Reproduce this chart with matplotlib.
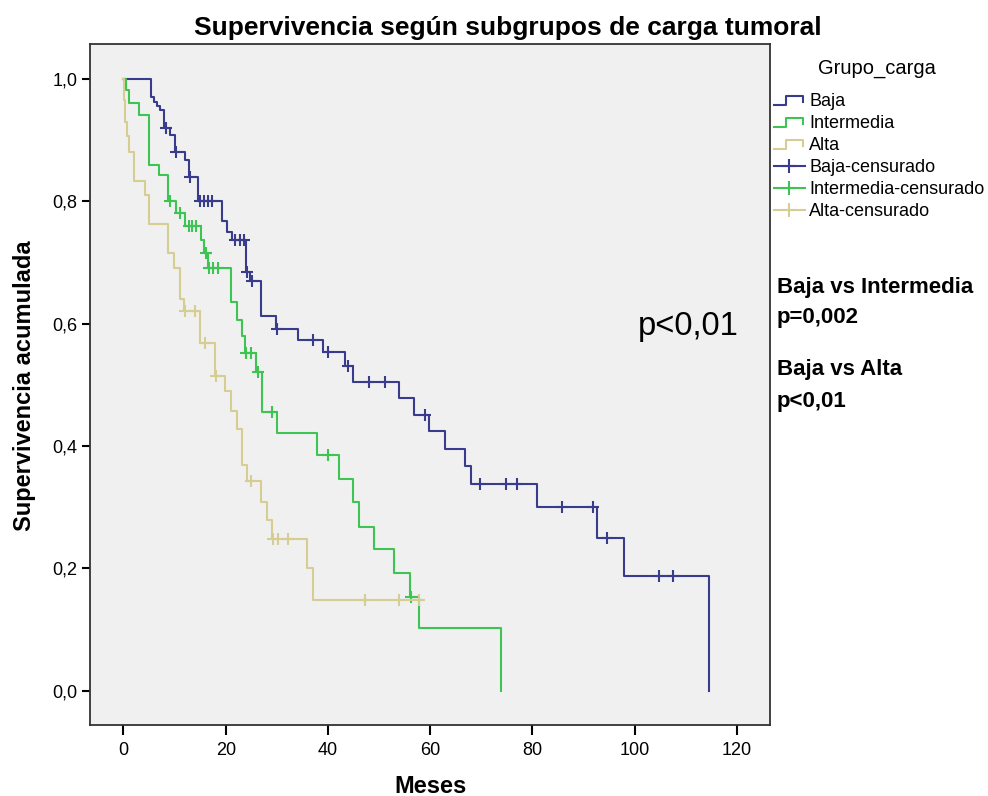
import numpy as np
import matplotlib
matplotlib.use('Agg')
import matplotlib.pyplot as plt
from matplotlib.lines import Line2D
from matplotlib.legend_handler import HandlerBase

# tiempos de evento (meses) y supervivencia acumulada tras cada evento
baja_t = [0, 5.3, 5.9, 6.5, 7.2, 8.0, 9.2, 10.0, 12.1, 12.8, 14.6, 19.2, 20.2, 21.2, 23.9, 24.8, 27.0,
          29.8, 34.2, 39.0, 43.3, 44.9, 54.0, 56.9, 59.8, 62.9, 66.9, 68.0, 81.0, 92.7, 97.9, 114.6]
baja_s = [1.0, 0.97, 0.963, 0.955, 0.949, 0.92, 0.908, 0.88, 0.868, 0.84, 0.80, 0.767, 0.75, 0.737, 0.685,
          0.669, 0.612, 0.592, 0.574, 0.553, 0.53, 0.505, 0.478, 0.451, 0.424, 0.395, 0.368, 0.338, 0.301,
          0.249, 0.187, 0.0]
baja_cens = [8.3, 10.3, 13.0, 14.9, 15.7, 16.6, 17.3, 21.9, 22.8, 23.5, 24.2, 25.1, 30.1, 37.1, 40.0,
             43.9, 48.0, 51.1, 58.9, 69.8, 74.8, 76.9, 85.8, 91.9, 94.6, 104.7, 107.6]

inter_t = [0, 0.4, 1.0, 3.0, 4.9, 6.9, 8.8, 10.3, 12.1, 15.2, 15.8, 16.6, 21.0, 22.2, 23.2, 23.7, 26.0,
           27.2, 30.0, 37.9, 42.2, 45.0, 46.0, 49.0, 53.0, 56.0, 57.9, 73.8]
inter_s = [1.0, 0.982, 0.96, 0.941, 0.86, 0.843, 0.80, 0.78, 0.759, 0.737, 0.715, 0.691, 0.636, 0.606,
           0.579, 0.552, 0.521, 0.455, 0.421, 0.386, 0.346, 0.309, 0.268, 0.231, 0.192, 0.154, 0.102, 0.0]
inter_cens = [9.1, 11.0, 12.8, 13.5, 14.2, 16.1, 16.8, 17.6, 18.4, 23.9, 25.0, 26.3, 29.1, 40.0, 56.3]

alta_t = [0, 0.1, 0.3, 0.6, 1.0, 2.0, 4.3, 4.9, 8.8, 9.8, 11.1, 11.8, 15.0, 17.9, 19.9, 21.1, 22.2,
          23.1, 24.1, 27.0, 28.0, 29.0, 36.0, 37.0, 58.3]
alta_s = [1.0, 0.965, 0.93, 0.906, 0.881, 0.833, 0.81, 0.763, 0.715, 0.691, 0.641, 0.62, 0.568, 0.514,
          0.49, 0.457, 0.428, 0.369, 0.342, 0.309, 0.279, 0.248, 0.2, 0.149, 0.149]
alta_cens = [12.0, 14.0, 16.0, 18.2, 24.9, 29.3, 30.2, 32.2, 47.2, 53.9, 57.9]

grupos = ['Baja', 'Intermedia', 'Alta']
colores = ['#393b8c', '#3ec452', '#d6cd93']

fuente = ['Liberation Sans', 'DejaVu Sans']
plt.rcParams['font.family'] = fuente


def surv_at(t, s, x):
    i = np.searchsorted(t, x, side='right') - 1
    return np.asarray(s)[i]


class StepHandler(HandlerBase):
    def create_artists(self, legend, orig_handle, xdescent, ydescent, width, height, fontsize, trans):
        x0, y0 = -xdescent, -ydescent
        xs = [x0, x0 + 0.4 * width, x0 + 0.4 * width, x0 + 0.95 * width, x0 + 0.95 * width]
        ys = [y0 + 0.1 * height, y0 + 0.1 * height, y0 + 0.8 * height, y0 + 0.8 * height, y0 + 0.35 * height]
        return [Line2D(xs, ys, color=orig_handle.get_color(), lw=1.5, transform=trans)]


fig = plt.figure(figsize=(9.88, 7.96), dpi=100)
ax = fig.add_axes([90 / 988, 1 - 725 / 796, 680 / 988, 681 / 796])
ax.set_facecolor('#f0f0f0')

datos = [(baja_t, baja_s, baja_cens), (inter_t, inter_s, inter_cens), (alta_t, alta_s, alta_cens)]
step_h = []
cens_h = []
for (t, s, c), col in zip(datos, colores):
    ln, = ax.step(t, s, where='post', color=col, lw=1.5)
    step_h.append(ln)
    ax.plot(c, surv_at(t, s, c), linestyle='none', marker='+', color=col, markersize=9, mew=1.5)
    cens_h.append(Line2D([], [], color=col, lw=1.5, marker='+', markersize=10, mew=1.5))

ax.set_xlim(-6.55, 126.5)
ax.set_ylim(-0.056, 1.057)
ax.set_xticks(range(0, 121, 20))
yt = np.arange(0, 1.01, 0.2)
ax.set_yticks(yt)
ax.set_yticklabels([('%.1f' % v).replace('.', ',') for v in yt])
ax.tick_params(axis='x', length=7, width=1.5, labelsize=13, pad=5)
ax.tick_params(axis='y', length=6, width=1.5, labelsize=13, pad=3)
for sp in ax.spines.values():
    sp.set_linewidth(1.3)
    sp.set_color('#333333')

ax.text(100.7, 0.595, 'p<0,01', fontsize=23.5, va='center', ha='left')

fig.text(0.514, 0.965, 'Supervivencia según subgrupos de carga tumoral', ha='center', va='center',
         fontsize=19, fontweight='bold')
fig.text(0.025, 0.515, 'Supervivencia acumulada', rotation=90, ha='center', va='center',
         fontsize=17, fontweight='bold')
fig.text(0.436, 0.012, 'Meses', ha='center', va='center', fontsize=17, fontweight='bold')

for txt, yy in [('Baja vs Intermedia', 287), ('p=0,002', 318), ('Baja vs Alta', 370), ('p<0,01', 401)]:
    fig.text(777 / 988, 1 - yy / 796, txt, ha='left', va='center', fontsize=16, fontweight='bold')

fig.text(877 / 988, 1 - 68 / 796, 'Grupo_carga', ha='center', va='center', fontsize=14.5)
handles = step_h + cens_h
labels = grupos + [g + '-censurado' for g in grupos]
hmap = {h: StepHandler() for h in step_h}
leg = fig.legend(handles, labels, handler_map=hmap, loc='upper left', bbox_to_anchor=(774 / 988, 1 - 93 / 796),
                 frameon=False, fontsize=13, handlelength=1.7, handletextpad=0.25, labelspacing=0.28,
                 borderaxespad=0, borderpad=0)

fig.savefig('out.png', dpi=100, facecolor='white')
